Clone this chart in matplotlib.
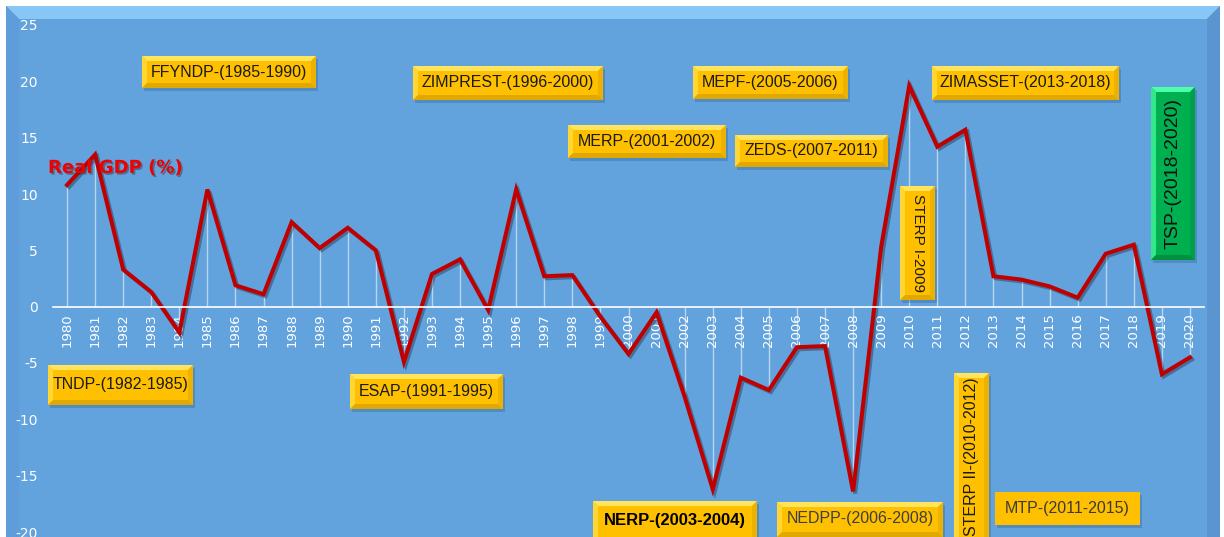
import matplotlib
matplotlib.use("Agg")
from matplotlib import pyplot
from matplotlib.patches import Polygon
from matplotlib.transforms import Affine2D
import matplotlib.patheffects as pe

years = list(range(1980, 2021))
gdp = [10.8, 13.5, 3.3, 1.3, -2.3, 10.4, 1.9, 1.1, 7.5, 5.2,
       7.0, 5.0, -4.9, 2.9, 4.2, -0.3, 10.4, 2.7, 2.8, -0.9,
       -4.2, -0.5, -8.0, -16.2, -6.3, -7.4, -3.6, -3.5, -16.4, 5.3,
       19.6, 14.2, 15.7, 2.7, 2.4, 1.8, 0.8, 4.7, 5.5, -6.0, -4.5]
y_ticks = [-20, -15, -10, -5, 0, 5, 10, 15, 20, 25]

# programme labels: text, box in pixels (x0, y0, x1, y1), rotation, style
programmes = [
    ("FFYNDP-(1985-1990)", (142, 56, 316, 88), 0, "bevel"),
    ("ZIMPREST-(1996-2000)", (413, 66, 603, 100), 0, "bevel"),
    ("MERP-(2001-2002)", (568, 125, 726, 158), 0, "bevel"),
    ("MEPF-(2005-2006)", (693, 66, 848, 99), 0, "bevel"),
    ("ZEDS-(2007-2011)", (735, 135, 888, 167), 0, "bevel"),
    ("ZIMASSET-(2013-2018)", (932, 66, 1119, 100), 0, "bevel"),
    ("STERP I-2009", (900, 186, 935, 300), 270, "bevel"),
    ("TNDP-(1982-1985)", (48, 365, 193, 405), 0, "bevel"),
    ("ESAP-(1991-1995)", (350, 374, 503, 409), 0, "bevel"),
    ("NERP-(2003-2004)", (593, 501, 757, 545), 0, "bold"),
    ("NEDPP-(2006-2008)", (777, 502, 943, 537), 0, "grey"),
    ("STERP II-(2010-2012)", (954, 373, 989, 560), 90, "bevel"),
    ("MTP-(2011-2015)", (995, 492, 1140, 525), 0, "flat"),
    ("TSP-(2018-2020)", (1151, 87, 1195, 260), 90, "green"),
]

W, H = 1224, 537
fig = pyplot.figure(figsize=(W / 100, H / 100), dpi=100)
fig.patch.set_facecolor("white")
px = Affine2D().scale(1 / W, -1 / H).translate(0, 1) + fig.transFigure


def poly(points, color, z, alpha=1.0):
    p = Polygon(points, closed=True, facecolor=color, edgecolor="none",
                transform=px, zorder=z, alpha=alpha)
    fig.add_artist(p)


# blue panel with bevelled edges
x0, y0, x1, y1, b = 6, 6, 1220, 545, 13
poly([(x0, y0), (x1, y0), (x1, y1), (x0, y1)], "#62A3DE", -10)
poly([(x0, y0), (x1, y0), (x1 - b, y0 + b), (x0 + b, y0 + b)], "#88C6F6", -9)
poly([(x0, y0), (x0 + b, y0 + b), (x0 + b, y1), (x0, y1)], "#5E9DD9", -9)
poly([(x1, y0), (x1, y1), (x1 - b, y1), (x1 - b, y0 + b)], "#5A95CF", -9)

ax = fig.add_axes([53 / W, (H - 532) / H, (1204 - 53) / W, (532 - 25) / H])
ax.set_facecolor("none")
ax.set_zorder(1)
for side in ["top", "right", "left"]:
    ax.spines[side].set_visible(False)
ax.spines["bottom"].set_position(("data", 0))
ax.spines["bottom"].set_color("white")
ax.spines["bottom"].set_linewidth(1.2)

ax.vlines(years, 0, gdp, colors="white", linewidth=1.0, alpha=0.55)
ax.plot(years, gdp, color="#C00000", linewidth=2.9, solid_joinstyle="miter",
        path_effects=[pe.SimpleLineShadow(offset=(1.5, -1.5), alpha=0.3),
                      pe.Normal()])

ax.set_xlim(1979.5, 2020.5)
ax.set_ylim(-20, 25)
ax.set_xticks(years)
ax.set_xticklabels([str(y) for y in years], rotation=90, color="white",
                   fontsize=9.5, va="top", ha="center")
ax.set_yticks(y_ticks)
ax.set_yticklabels([str(t) for t in y_ticks], color="white", fontsize=10)
ax.tick_params(axis="both", length=0)
ax.tick_params(axis="y", pad=11)
ax.tick_params(axis="x", pad=5)

fig.text(48 / W, 1 - 168 / H, "Real GDP (%)", color="#F00000", fontsize=13,
         fontweight="bold", family="DejaVu Sans", va="center", ha="left",
         zorder=6,
         path_effects=[pe.withSimplePatchShadow(offset=(1.2, -1.2),
                                                shadow_rgbFace="#303030",
                                                alpha=0.45)])


def label_box(text, box, rot, style):
    bx0, by0, bx1, by1 = box
    bv = 5
    if style == "green":
        base, top, left, bottom, right = "#00B050", "#4DFFA6", "#33E88A", "#009040", "#00A048"
    else:
        base, top, left, bottom, right = "#FFC000", "#FFE45C", "#FFD633", "#E0A800", "#EDB200"
    poly([(bx0 + 2, by0 + 3), (bx1 + 2, by0 + 3), (bx1 + 2, by1 + 3), (bx0 + 2, by1 + 3)],
         "#2F5F8F", 4, alpha=0.35)
    poly([(bx0, by0), (bx1, by0), (bx1, by1), (bx0, by1)], base, 5)
    if style != "flat":
        poly([(bx0, by0), (bx1, by0), (bx1 - bv, by0 + bv), (bx0 + bv, by0 + bv)], top, 5)
        poly([(bx0, by0), (bx0 + bv, by0 + bv), (bx0 + bv, by1 - bv), (bx0, by1)], left, 5)
        poly([(bx0, by1), (bx0 + bv, by1 - bv), (bx1 - bv, by1 - bv), (bx1, by1)], bottom, 5)
        poly([(bx1, by0), (bx1, by1), (bx1 - bv, by1 - bv), (bx1 - bv, by0 + bv)], right, 5)
    cx = (bx0 + bx1) / 2
    cy = (by0 + by1) / 2
    kw = dict(family="Liberation Sans", fontsize=11.5, color="#1A1A1A")
    if style == "bold":
        kw.update(fontweight="bold", fontsize=12, color="black")
        cy = 520
    elif style == "grey":
        kw.update(color="#3F3F3F")
        cy = 518
    elif style == "flat":
        kw.update(color="#3A3A3A")
    elif style == "green":
        kw.update(fontsize=14, color="#101010")
    if text.startswith("STERP II"):
        cy = 373 + 84
    elif text.startswith("STERP I"):
        kw.update(fontsize=11)
    fig.text(cx / W, 1 - cy / H, text, rotation=rot, ha="center", va="center",
             rotation_mode="anchor", zorder=6, **kw)


for text, box, rot, style in programmes:
    label_box(text, box, rot, style)

pyplot.savefig("out.png", dpi=100)
